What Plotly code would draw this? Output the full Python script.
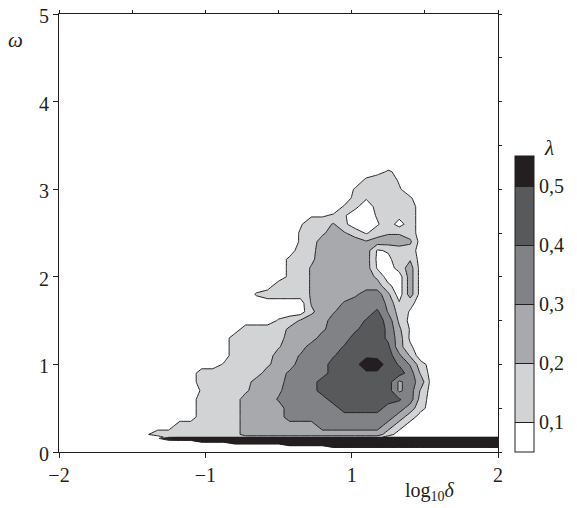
import numpy as np
import plotly.graph_objects as go

INK = "#231f20"
FONT = "Liberation Serif"

# grid
log10_delta = [-1.4, -1.3, -1.2, -1.1, -1.0, -0.9, -0.8, -0.7, -0.6, -0.5,
               -0.4, -0.3, -0.2, -0.1, 0.0, 0.1, 0.2, 0.3, 0.4, 0.5,
               0.6, 0.7, 0.8, 0.9, 1.0, 1.1, 1.2, 1.3, 1.4, 1.5,
               1.6, 1.7, 1.8, 1.9, 2.0]
omega = [0.0, 0.05, 0.07, 0.09, 0.11, 0.13, 0.155, 0.17,
         0.2, 0.3, 0.4, 0.5, 0.6, 0.7, 0.8, 0.9, 1.0, 1.1, 1.2, 1.3, 1.4,
         1.5, 1.6, 1.7, 1.8, 1.9, 2.0, 2.1, 2.2, 2.3, 2.4, 2.5, 2.6, 2.7,
         2.8, 2.9, 3.0, 3.1, 3.2, 3.3]

# lambda values (in hundredths), one row per omega value
lambda_pct = [
    [5,5,5,5,5, 5,5,5,5,5, 5,5,5,5,5, 5,5,5,5,5, 5,5,5,5,5, 5,5,5,5,5, 5,5,5,5,5],
    [5,5,5,5,5, 5,5,5,5,5, 5,5,5,5,5, 5,5,5,5,5, 5,5,5,5,5, 5,5,5,5,5, 5,5,5,5,5],
    [5,5,5,5,5, 5,5,5,5,5, 5,5,5,5,5, 5,5,5,5,65, 65,65,65,65,65, 65,65,65,65,65, 65,65,65,65,65],
    [5,5,5,5,5, 5,5,5,5,5, 5,5,5,5,5, 65,65,65,65,65, 65,65,65,65,65, 65,65,65,65,65, 65,65,65,65,65],
    [5,5,5,5,5, 5,5,5,5,5, 65,65,65,65,65, 65,65,65,65,65, 65,65,65,65,65, 65,65,65,65,65, 65,65,65,65,65],
    [5,5,5,5,5, 5,5,65,65,65, 65,65,65,65,65, 65,65,65,65,65, 65,65,65,65,65, 65,65,65,65,65, 65,65,65,65,65],
    [5,5,5,5,45, 65,65,65,65,65, 65,65,65,65,65, 65,65,65,65,65, 65,65,65,65,65, 65,65,65,65,65, 65,65,65,65,65],
    [5,5,5,5,15, 15,15,15,15,15, 15,15,15,15,15, 15,15,15,15,15, 15,15,15,15,5, 5,5,5,5,5, 5,5,5,5,5],
    [5,5,9,15,15, 15,15,15,15,15, 15,25,25,25,25, 25,25,25,25,25, 25,25,25,25,15, 5,5,5,5,5, 5,5,5,5,5],
    [5,5,5,5,5, 15,15,15,15,15, 15,25,25,25,25, 25,25,25,35,35, 35,35,35,35,25, 15,5,5,5,5, 5,5,5,5,5],
    [5,5,5,5,5, 5,5,15,15,15, 15,25,25,25,25, 35,35,35,35,35, 35,35,35,35,35, 25,15,5,5,5, 5,5,5,5,5],
    [5,5,5,5,5, 5,5,15,15,15, 15,25,25,25,25, 35,35,35,35,35, 45,45,45,45,35, 35,25,13,5,5, 5,5,5,5,5],
    [5,5,5,5,5, 5,5,15,15,15, 15,25,25,25,31, 35,35,35,35,45, 45,45,45,45,45, 41,35,15,5,5, 5,5,5,5,5],
    [5,5,5,5,5, 5,5,11,15,15, 15,18,25,25,28, 35,35,35,45,45, 45,45,45,45,45, 28,35,18,5,5, 5,5,5,5,5],
    [5,5,5,5,5, 5,5,15,15,15, 15,15,25,25,25, 35,35,35,45,45, 45,45,45,45,45, 28,35,25,5,5, 5,5,5,5,5],
    [5,5,5,5,5, 5,5,15,15,15, 15,15,15,25,25, 32,35,35,35,45, 45,45,48,48,45, 45,35,18,5,5, 5,5,5,5,5],
    [5,5,5,5,5, 5,5,5,5,11, 15,15,15,18,25, 25,35,35,35,45, 45,47,56,56,45, 39,29,14,5,5, 5,5,5,5,5],
    [5,5,5,5,5, 5,5,5,5,5, 15,15,15,15,25, 25,31,35,35,39, 45,45,48,47,45, 32,19,3,5,5, 5,5,5,5,5],
    [5,5,5,5,5, 5,5,5,5,5, 15,15,15,15,19, 25,25,35,35,35, 41,45,45,45,42, 24,12,3,5,5, 5,5,5,5,5],
    [5,5,5,5,5, 5,5,5,5,5, 15,15,15,15,15, 25,25,25,35,35, 35,45,45,45,38, 25,8,5,5,5, 5,5,5,5,5],
    [5,5,5,5,5, 5,5,5,5,5, 5,15,15,15,15, 22,25,25,28,35, 35,38,45,45,38, 22,9,5,5,5, 5,5,5,5,5],
    [5,5,5,5,5, 5,5,5,5,5, 5,5,5,5,11, 15,21,25,25,35, 35,35,41,45,36, 18,7,5,5,5, 5,5,5,5,5],
    [5,5,5,5,5, 5,5,5,5,5, 5,5,5,5,5, 5,5,18,25,29, 35,35,35,42,29, 16,9,5,5,5, 5,5,5,5,5],
    [5,5,5,5,5, 5,5,5,5,5, 5,5,5,5,5, 5,5,21,25,25, 31,35,35,35,28, 11,13,5,5,5, 5,5,5,5,5],
    [5,5,5,5,5, 5,5,5,5,5, 5,5,11,15,15, 15,15,21,25,25, 25,28,35,35,22, 5,25,5,5,5, 5,5,5,5,5],
    [5,5,5,5,5, 5,5,5,5,5, 5,5,5,5,15, 15,15,21,25,25, 25,25,25,25,12, 5,25,5,5,5, 5,5,5,5,5],
    [5,5,5,5,5, 5,5,5,5,5, 5,5,5,5,5, 12,15,21,25,25, 25,25,25,18,5, 5,25,5,5,5, 5,5,5,5,5],
    [5,5,5,5,5, 5,5,5,5,5, 5,5,5,5,5, 12,15,21,25,25, 25,25,25,9,5, 14,25,5,5,5, 5,5,5,5,5],
    [5,5,5,5,5, 5,5,5,5,5, 5,5,5,5,5, 12,15,18,25,25, 25,25,25,8,8, 15,19,5,5,5, 5,5,5,5,5],
    [5,5,5,5,5, 5,5,5,5,5, 5,5,5,5,5, 5,15,17,25,25, 25,25,25,9,11, 15,15,5,5,5, 5,5,5,5,5],
    [5,5,5,5,5, 5,5,5,5,5, 5,5,5,5,5, 5,11,15,25,25, 25,25,21,25,25, 25,22,5,5,5, 5,5,5,5,5],
    [5,5,5,5,5, 5,5,5,5,5, 5,5,5,5,5, 5,11,15,18,25, 21,15,9,15,19, 19,15,5,5,5, 5,5,5,5,5],
    [5,5,5,5,5, 5,5,5,5,5, 5,5,5,5,5, 5,9,15,15,21, 12,5,5,9,15, 6,15,5,5,5, 5,5,5,5,5],
    [5,5,5,5,5, 5,5,5,5,5, 5,5,5,5,5, 5,5,9,9,11, 11,5,5,11,15, 13,15,5,5,5, 5,5,5,5,5],
    [5,5,5,5,5, 5,5,5,5,5, 5,5,5,5,5, 5,5,5,5,5, 11,12,5,13,15, 15,15,5,5,5, 5,5,5,5,5],
    [5,5,5,5,5, 5,5,5,5,5, 5,5,5,5,5, 5,5,5,5,5, 5,13,11,15,15, 15,11,5,5,5, 5,5,5,5,5],
    [5,5,5,5,5, 5,5,5,5,5, 5,5,5,5,5, 5,5,5,5,5, 5,11,15,15,15, 11,5,5,5,5, 5,5,5,5,5],
    [5,5,5,5,5, 5,5,5,5,5, 5,5,5,5,5, 5,5,5,5,5, 5,5,12,15,15, 9,5,5,5,5, 5,5,5,5,5],
    [5,5,5,5,5, 5,5,5,5,5, 5,5,5,5,5, 5,5,5,5,5, 5,5,5,7,11, 8,5,5,5,5, 5,5,5,5,5],
    [5,5,5,5,5, 5,5,5,5,5, 5,5,5,5,5, 5,5,5,5,5, 5,5,5,5,5, 5,5,5,5,5, 5,5,5,5,5],
]
assert len(lambda_pct) == len(omega)
assert all(len(r) == len(log10_delta) for r in lambda_pct)

levels = [0.1, 0.2, 0.3, 0.4, 0.5]
level_text = ["0,1", "0,2", "0,3", "0,4", "0,5"]
gray_fills = ["#ffffff", "#d1d3d4", "#a7a9ac", "#808285", "#58595b", "#231f20"]

x_tick_pos = [-2, -2 / 3, 2 / 3, 2]
x_tick_text = ["\u22122", "\u22121", "1", "2"]
y_ticks = [0, 1, 2, 3, 4, 5]
top_ticks = [-2, -4 / 3, -2 / 3, 0, 2 / 3, 4 / 3, 2]
right_ticks = [0, 0.5, 1, 1.5, 2, 2.5, 3, 3.5, 4, 4.5, 5]

lam = np.array(lambda_pct, dtype=float) / 100.0

colorscale = [[i / (len(gray_fills) - 1), c] for i, c in enumerate(gray_fills)]

fig = go.Figure()
fig.add_trace(go.Contour(
    x=log10_delta, y=omega, z=lam,
    autocontour=False,
    contours=dict(start=levels[0], end=levels[-1], size=0.1,
                  coloring="fill", showlines=True),
    line=dict(color=INK, width=1, smoothing=0),
    colorscale=colorscale,
    colorbar=dict(
        x=1.0387, xanchor="left", xpad=0,
        y=0, yanchor="bottom", ypad=0,
        thickness=19, thicknessmode="pixels",
        len=296, lenmode="pixels",
        outlinewidth=1, outlinecolor=INK,
        tickvals=levels, ticktext=level_text, ticks="",
        tickfont=dict(family=FONT, size=20, color=INK),
    ),
    hoverinfo="skip",
))
fig.add_trace(go.Scatter(x=[None], y=[None], xaxis="x2", yaxis="y2",
                         showlegend=False, hoverinfo="skip"))

axis_common = dict(showgrid=False, zeroline=False, showline=True, automargin=False,
                   linecolor=INK, linewidth=1, tickcolor=INK, tickwidth=1)

# the page places the figure 8 px from the top-left corner, so the figure is
# sized 8 px smaller than the 577x508 window
fig.update_layout(
    width=569, height=500,
    margin=dict(l=51, r=79, t=6, b=56, autoexpand=False),
    paper_bgcolor="white", plot_bgcolor="white",
    font=dict(family=FONT, size=20, color=INK),
    showlegend=False,
    xaxis=dict(range=[-2, 2], tickvals=x_tick_pos, ticktext=x_tick_text,
               ticks="outside", ticklen=5, tickfont=dict(size=20),
               ticklabeloverflow="allow", **axis_common),
    yaxis=dict(range=[0, 5], tickvals=y_ticks, ticks="outside", ticklen=5,
               tickfont=dict(size=20), ticklabeloverflow="allow",
               ticklabelshift=2, **axis_common),
    xaxis2=dict(range=[-2, 2], overlaying="x", side="top", tickvals=top_ticks,
                ticks="outside", ticklen=3, showticklabels=False, **axis_common),
    yaxis2=dict(range=[0, 5], overlaying="y", side="right", tickvals=right_ticks,
                ticks="outside", ticklen=3, showticklabels=False, **axis_common),
    annotations=[
        dict(text="<i>\u03c9</i>", xref="paper", yref="paper", x=-0.1, y=0.94,
             xanchor="center", yanchor="middle", showarrow=False,
             font=dict(family=FONT, size=21, color=INK)),
        dict(text="log<sub>10</sub><i>\u03b4</i>", xref="paper", yref="paper",
             x=0.845, y=-0.09, xanchor="center", yanchor="middle", showarrow=False,
             font=dict(family=FONT, size=20, color=INK)),
        dict(text="<i>\u03bb</i>", xref="paper", yref="paper", x=1.116, y=0.694,
             xanchor="center", yanchor="middle", showarrow=False,
             font=dict(family=FONT, size=21, color=INK)),
    ],
)

fig.write_html("out.html")
